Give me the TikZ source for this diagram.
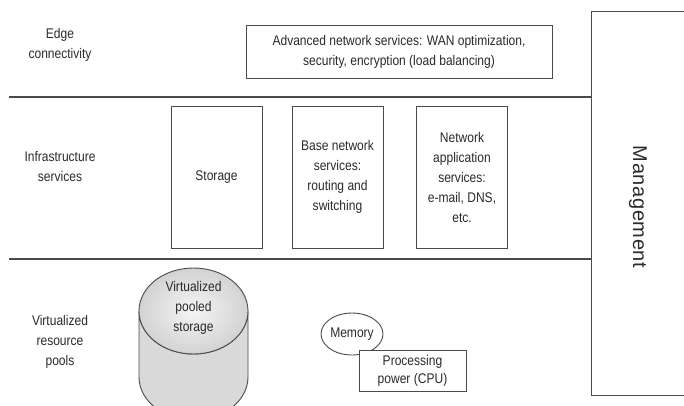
\documentclass[tikz,border=0pt]{standalone}
\usepackage{fontspec}
\setmainfont{Liberation Sans}[FakeStretch=0.86]
\usetikzlibrary{positioning,shapes.geometric}
\definecolor{linegray}{HTML}{4A4A4A}
\definecolor{textgray}{HTML}{2A2A2A}
\tikzset{
  txt/.style={align=center, text=textgray, font=\fontsize{14}{20}\selectfont},
  svcbox/.style={txt, draw=linegray, line width=0.9pt, fill=white, inner sep=0pt},
  layerline/.style={draw=linegray, line width=1.3pt},
}
\begin{document}
\begin{tikzpicture}[x=1pt,y=-1pt]
  \useasboundingbox (0,0) rectangle (684,405);
  \clip (0,0) rectangle (684,405);
  %layers
  \draw[layerline] (9,97) -- (591,97);
  \draw[layerline] (9,259) -- (591,259);
  %management
  \draw[draw=linegray, line width=0.9pt] (700,11) -- (591,11) -- (591,395) -- (700,395);
  \node[txt, rotate=-90, font=\fontsize{20}{20}\selectfont\addfontfeatures{FakeStretch=1,LetterSpace=3}] (mgmt) at (638,207) {Management};
  %layer names
  \node[txt] (edge) at (60,45) {Edge\\connectivity};
  \node[txt] (infra) at (60,166.5) {Infrastructure\\services};
  \node[txt] (pools) at (60,342) {Virtualized\\resource\\pools};
  %edge connectivity
  \node[svcbox, minimum width=306, minimum height=53] (advanced) at (399,52)
    {Advanced network services: WAN optimization,\\security, encryption (load balancing)};
  %infrastructure services
  \node[svcbox, minimum width=91, minimum height=142] (storage) at (216.5,177) {Storage};
  \node[svcbox, minimum width=91, minimum height=142] (basenet) at (337.5,177)
    {Base network\\services:\\routing and\\switching};
  \node[svcbox, minimum width=91, minimum height=142] (netapp) at (462,177)
    {Network\\application\\services:\\e-mail, DNS,\\etc.};
  %virtualized pool: cylinder
  \shade[top color=gray!30, middle color=white, bottom color=gray!30, draw=linegray, line width=0.9pt]
    (139,311) -- (139,377) arc[start angle=180, end angle=0, x radius=54.5, y radius=43]
    -- (248,311) arc[start angle=0, end angle=180, x radius=54.5, y radius=43] -- cycle;
  \shade[inner color=gray!8, outer color=gray!35, draw=linegray, line width=0.9pt]
    (193.5,311) ellipse [x radius=54.5, y radius=43];
  \node[txt] (pooled) at (193.5,308) {Virtualized\\pooled\\storage};
  %memory and cpu
  \node[txt, ellipse, draw=linegray, line width=0.9pt, fill=white, minimum width=62, minimum height=42, inner sep=0pt] (memory) at (352,334) {Memory};
  \node[svcbox, font=\fontsize{14}{18}\selectfont, minimum width=107, minimum height=41] (cpu) at (412.5,370.5)
    {Processing\\power (CPU)};
\end{tikzpicture}
\end{document}
